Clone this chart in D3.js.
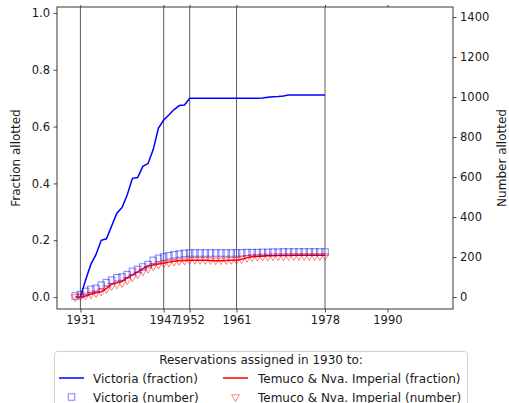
<!DOCTYPE html>
<html>
<head>
<meta charset="utf-8">
<script src="https://cdn.jsdelivr.net/npm/d3@7"></script>
<style>
  body { margin: 0; background: #fff; }
  text { font-family: "DejaVu Sans", sans-serif; fill: #1a1a1a; }
</style>
</head>
<body>
<div id="chart"></div>
<script>
// data
var years = d3.range(1930, 1979);
var markYears = [1931, 1947, 1952, 1961, 1978];
var xTicks = [1931, 1947, 1952, 1961, 1978, 1990];
var fracTicks = [0, 0.2, 0.4, 0.6, 0.8, 1.0];
var numTicks = [0, 200, 400, 600, 800, 1000, 1200, 1400];

// Victoria fraction (starts 1931)
var vicFrac = [null, 0.0, 0.06, 0.115, 0.15, 0.20, 0.205, 0.25, 0.295, 0.315, 0.36,
  0.418, 0.421, 0.46, 0.47, 0.52, 0.595, 0.623, 0.641, 0.66, 0.674,
  0.676, 0.70, 0.70, 0.70, 0.70, 0.70, 0.70, 0.70, 0.70, 0.70,
  0.70, 0.70, 0.70, 0.70, 0.70, 0.701, 0.703, 0.705, 0.706, 0.708,
  0.711, 0.711, 0.711, 0.711, 0.711, 0.711, 0.711, 0.711, 0.711];
// Victoria number
var vicNum = [5, 12, 28, 38, 43, 59, 72, 84, 96, 100,
  112, 128, 138, 150, 162, 183, 193, 200, 206, 211,
  215, 218, 220, 220, 220, 220, 220, 220, 220, 220,
  220, 220, 221, 222, 222, 222, 223, 223, 224, 224,
  225, 225, 225, 225, 225, 225, 225, 225, 225];
// Temuco & Nva. Imperial fraction
var temFrac = [0.0, 0.0, 0.004, 0.01, 0.015, 0.019, 0.03, 0.045, 0.05, 0.055,
  0.068, 0.078, 0.089, 0.10, 0.11, 0.113, 0.116, 0.119, 0.123, 0.126,
  0.128, 0.129, 0.13, 0.13, 0.13, 0.13, 0.129, 0.128, 0.128, 0.129,
  0.13, 0.13, 0.133, 0.138, 0.142, 0.143, 0.144, 0.145, 0.145, 0.146,
  0.146, 0.146, 0.147, 0.147, 0.147, 0.147, 0.147, 0.147, 0.147];
// Temuco & Nva. Imperial number
var temNum = [0, 3, 8, 13, 20, 27, 40, 55, 63, 70,
  84, 98, 114, 128, 142, 154, 162, 168, 172, 177,
  180, 183, 186, 186, 186, 186, 185, 184, 184, 185,
  186, 186, 190, 196, 200, 202, 203, 203, 204, 204,
  204, 205, 205, 205, 205, 205, 205, 205, 205];

var W = 509, H = 403;
var L = 57, R = 453, T = 7, B = 309;

var svg = d3.select("#chart").append("svg")
  .attr("width", W).attr("height", H);
svg.append("rect").attr("width", W).attr("height", H).attr("fill", "#fff");

var x = d3.scaleLinear().domain([1926.5, 2002.6]).range([L, R]);
var yL = d3.scaleLinear().domain([-0.042, 1.021]).range([B, T]);
var yR = d3.scaleLinear().domain([-60, 1450]).range([B, T]);

// vertical marker lines
svg.append("g").selectAll("line")
  .data(markYears)
  .enter().append("line")
    .attr("x1", d => x(d)).attr("x2", d => x(d))
    .attr("y1", T).attr("y2", B)
    .attr("stroke", "#333").attr("stroke-width", 0.8);

// axes
var xAxis = svg.append("g")
  .attr("transform", "translate(0," + B + ")")
  .call(d3.axisBottom(x).tickValues(xTicks).tickFormat(d3.format("d")).tickSize(3.5).tickPadding(3.5));
var topAxis = svg.append("g")
  .attr("transform", "translate(0," + T + ")")
  .call(d3.axisTop(x).tickValues(xTicks).tickFormat("").tickSize(2));
var leftAxis = svg.append("g")
  .attr("transform", "translate(" + L + ",0)")
  .call(d3.axisLeft(yL).tickValues(fracTicks).tickFormat(d3.format(".1f")).tickSize(3.5).tickPadding(3.5));
var rightAxis = svg.append("g")
  .attr("transform", "translate(" + R + ",0)")
  .call(d3.axisRight(yR).tickValues(numTicks).tickFormat(d3.format("d")).tickSize(3.5).tickPadding(3.5));

[xAxis, topAxis, leftAxis, rightAxis].forEach(function (g) {
  g.select(".domain").remove();
  g.selectAll("line").attr("stroke", "#222").attr("stroke-width", 0.8);
  g.selectAll("text").style("font-size", "11.5px").attr("fill", "#1a1a1a")
    .style("font-family", "DejaVu Sans, sans-serif");
});

// frame
svg.append("rect")
  .attr("x", L).attr("y", T).attr("width", R - L).attr("height", B - T)
  .attr("fill", "none").attr("stroke", "#222").attr("stroke-width", 0.9);

// lines
var lineFrac = function (vals) {
  return d3.line()
    .defined((d, i) => vals[i] != null)
    .x((d, i) => x(years[i]))
    .y((d, i) => yL(vals[i]))(vals);
};
svg.append("path").attr("d", lineFrac(vicFrac))
  .attr("fill", "none").attr("stroke", "#0000ff").attr("stroke-width", 1.5);
svg.append("path").attr("d", lineFrac(temFrac))
  .attr("fill", "none").attr("stroke", "#ff0000").attr("stroke-width", 1.5);

// markers
var sq = 6.5;
svg.append("g").selectAll("rect")
  .data(vicNum)
  .enter().append("rect")
    .attr("x", (d, i) => x(years[i]) - sq / 2)
    .attr("y", d => yR(d) - sq / 2)
    .attr("width", sq).attr("height", sq)
    .attr("fill", "none").attr("stroke", "#0000ff")
    .attr("stroke-opacity", 0.5).attr("stroke-width", 1);

var tri = d3.symbol().type(d3.symbolTriangle).size(26);
svg.append("g").selectAll("path")
  .data(temNum)
  .enter().append("path")
    .attr("d", tri)
    .attr("transform", (d, i) => "translate(" + x(years[i]) + "," + yR(d) + ") rotate(180)")
    .attr("fill", "none").attr("stroke", "#ff0000")
    .attr("stroke-opacity", 0.5).attr("stroke-width", 1);

// axis labels
svg.append("text")
  .attr("transform", "translate(20," + ((T + B) / 2) + ") rotate(-90)")
  .attr("text-anchor", "middle")
  .style("font-size", "12px")
  .text("Fraction allotted");
svg.append("text")
  .attr("transform", "translate(506," + ((T + B) / 2) + ") rotate(-90)")
  .attr("text-anchor", "middle")
  .style("font-size", "12px")
  .text("Number allotted");

// legend
var lg = svg.append("g");
lg.append("rect")
  .attr("x", 54.5).attr("y", 351.5).attr("width", 413).attr("height", 70)
  .attr("rx", 3).attr("fill", "#fff").attr("fill-opacity", 0.8)
  .attr("stroke", "#d0d0d0").attr("stroke-width", 1);
lg.append("text")
  .attr("x", 261).attr("y", 363.5).attr("text-anchor", "middle")
  .style("font-size", "12px")
  .text("Reservations assigned in 1930 to:");

var items = [
  { label: "Victoria (fraction)", kind: "line", color: "#0000ff", cx: 59, tx: 93, y: 378 },
  { label: "Temuco & Nva. Imperial (fraction)", kind: "line", color: "#ff0000", cx: 223, tx: 258, y: 378 },
  { label: "Victoria (number)", kind: "sq", color: "#0000ff", cx: 59, tx: 93, y: 397 },
  { label: "Temuco & Nva. Imperial (number)", kind: "tri", color: "#ff0000", cx: 223, tx: 258, y: 397 }
];
items.forEach(function (it) {
  if (it.kind === "line") {
    lg.append("line")
      .attr("x1", it.cx).attr("x2", it.cx + 25)
      .attr("y1", it.y).attr("y2", it.y)
      .attr("stroke", it.color).attr("stroke-width", 1.5);
  } else if (it.kind === "sq") {
    lg.append("rect")
      .attr("x", it.cx + 12.5 - sq / 2).attr("y", it.y - sq / 2)
      .attr("width", sq).attr("height", sq)
      .attr("fill", "none").attr("stroke", it.color).attr("stroke-opacity", 0.5);
  } else {
    lg.append("path").attr("d", tri)
      .attr("transform", "translate(" + (it.cx + 12.5) + "," + it.y + ") rotate(180)")
      .attr("fill", "none").attr("stroke", it.color).attr("stroke-opacity", 0.5);
  }
  lg.append("text")
    .attr("x", it.tx).attr("y", it.y + 4.5)
    .style("font-size", "12px")
    .text(it.label);
});
</script>
</body>
</html>
